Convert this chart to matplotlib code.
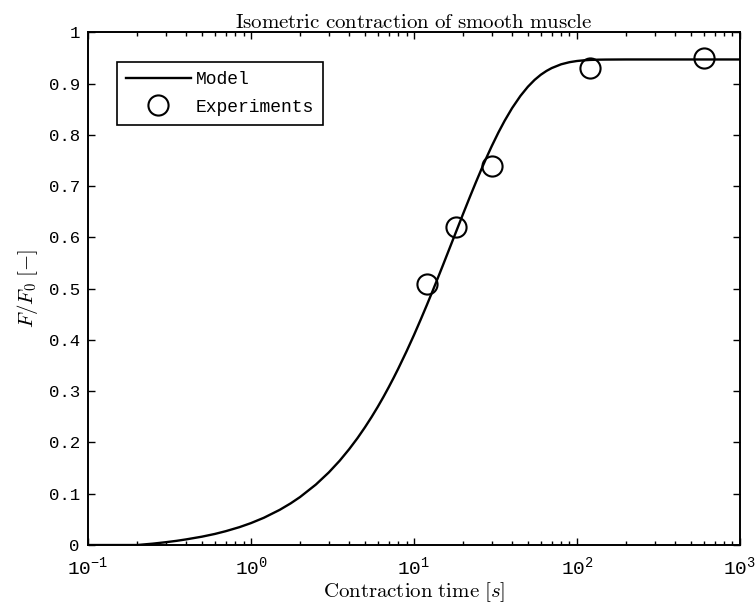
import matplotlib
matplotlib.use("Agg")
import matplotlib.pyplot as plt
from matplotlib.ticker import FixedLocator, LogLocator, NullFormatter

plt.rcParams['mathtext.fontset'] = 'cm'
plt.rcParams['mathtext.rm'] = 'Liberation Mono'
plt.rcParams['mathtext.it'] = 'Liberation Mono'
plt.rcParams['mathtext.bf'] = 'Liberation Mono:bold'

# Model curve
model_t = [0.1, 0.2, 0.25, 0.3, 0.35, 0.4, 0.5, 0.6, 0.7, 0.85, 1, 1.2, 1.5, 1.75, 2, 2.5, 3, 3.5,
           4, 4.5, 5, 5.5, 6, 6.5, 7, 7.5, 8, 9, 10, 11, 12, 13, 14, 15, 16, 17, 18, 20,
           22, 24, 26, 28, 30, 33, 36, 40, 45, 50, 55, 60, 65, 70, 80, 90, 100, 110,
           120, 135, 150, 200, 300, 500, 1000]
model_f = [0.0, 0.0, 0.0027, 0.0055, 0.0082, 0.011, 0.0163, 0.0216, 0.027, 0.0349, 0.0428,
           0.0532, 0.0686, 0.0812, 0.0936, 0.1179, 0.1415, 0.1644, 0.1868, 0.2084, 0.2295,
           0.2499, 0.2697, 0.289, 0.3078, 0.326, 0.3437, 0.3776, 0.4095, 0.4398, 0.4682,
           0.4951, 0.5205, 0.5444, 0.5671, 0.5884, 0.6085, 0.6455, 0.6784, 0.7077, 0.7338,
           0.7571, 0.7779, 0.8048, 0.8274, 0.8521, 0.8759, 0.8938, 0.9072, 0.9172, 0.9246,
           0.9302, 0.9376, 0.9417, 0.944, 0.9453, 0.9461, 0.9466, 0.9468, 0.947, 0.947,
           0.947, 0.947]

# Experimental points
exp_t = [12, 18, 30, 120, 600]
exp_f = [0.51, 0.62, 0.74, 0.93, 0.95]

yticks = [0, 0.1, 0.2, 0.3, 0.4, 0.5, 0.6, 0.7, 0.8, 0.9, 1]
ytick_labels = ['0', '0.1', '0.2', '0.3', '0.4', '0.5', '0.6', '0.7', '0.8', '0.9', '1']
xticks = [0.1, 1, 10, 100, 1000]
xtick_labels = [r'$10^{-1}$', r'$10^{0}$', r'$10^{1}$', r'$10^{2}$', r'$10^{3}$']

fig = plt.figure(figsize=(7.55, 6.07), dpi=100)
ax = fig.add_axes([0.1166, 0.1021, 0.8634, 0.8447])

ax.plot(model_t, model_f, color='black', lw=1.7, label='Model')
ax.plot(exp_t, exp_f, linestyle='none', marker='o', markersize=14.5,
        markerfacecolor='none', markeredgecolor='black', markeredgewidth=1.5,
        label='Experiments')

ax.set_xscale('log')
ax.set_xlim(0.1, 1000)
ax.set_ylim(0, 1)

ax.xaxis.set_major_locator(FixedLocator(xticks))
ax.set_xticklabels(xtick_labels)
ax.xaxis.set_minor_locator(LogLocator(base=10, subs=range(2, 10)))
ax.xaxis.set_minor_formatter(NullFormatter())
ax.set_yticks(yticks)
ax.set_yticklabels(ytick_labels)

for lab in ax.get_yticklabels():
    lab.set_fontfamily('Liberation Mono')
    lab.set_fontsize(12.5)
for lab in ax.get_xticklabels():
    lab.set_math_fontfamily('custom')
    lab.set_fontsize(14)
ax.tick_params(axis='x', pad=8)
ax.tick_params(axis='y', pad=6)

ax.tick_params(which='both', direction='in', top=True, right=True, width=1.0)
ax.tick_params(which='major', length=5)
ax.tick_params(which='minor', length=3)
for s in ax.spines.values():
    s.set_linewidth(1.4)

ax.set_title(r'$\mathrm{Isometric\ contraction\ of\ smooth\ muscle}$', fontsize=15, pad=2)
ax.set_xlabel(r'$\mathrm{Contraction\ time}\ [s]$', fontsize=15, labelpad=1)
ax.set_ylabel(r'$F/F_0\ [-]$', fontsize=15, labelpad=6)

leg = ax.legend(loc='upper left', bbox_to_anchor=(0.03, 0.96), fancybox=False,
                edgecolor='black', framealpha=1, prop={'family': 'Liberation Mono', 'size': 13},
                handlelength=3.6, borderpad=0.5, labelspacing=0.6, handletextpad=0.3)
leg.get_frame().set_linewidth(1.2)

fig.savefig('out.png', dpi=100)
